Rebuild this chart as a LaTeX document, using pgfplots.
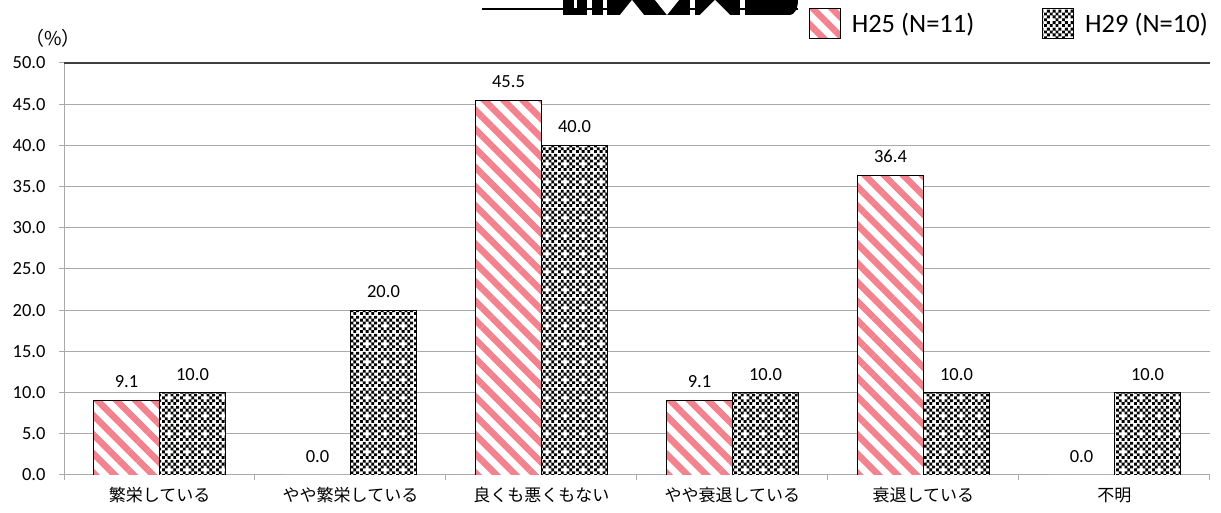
\documentclass[border=0pt]{standalone}
\usepackage{fontspec}
\setmainfont{Carlito}
\newfontfamily\jp{Noto Sans CJK JP}
\usepackage{pgfplots}
\pgfplotsset{compat=1.18}
\usetikzlibrary{patterns,patterns.meta}
\definecolor{pinkh}{RGB}{243,130,143}
\definecolor{gridc}{RGB}{170,170,170}
\pgfdeclarepatternformonly{mycheck}{\pgfqpoint{0pt}{0pt}}{\pgfqpoint{18pt}{18pt}}{\pgfqpoint{18pt}{18pt}}{%
  \pgfpathrectangle{\pgfqpoint{0pt}{0pt}}{\pgfqpoint{3pt}{3pt}}%
  \pgfpathrectangle{\pgfqpoint{6pt}{0pt}}{\pgfqpoint{3pt}{3pt}}%
  \pgfpathrectangle{\pgfqpoint{12pt}{0pt}}{\pgfqpoint{3pt}{3pt}}%
  \pgfpathrectangle{\pgfqpoint{3pt}{3pt}}{\pgfqpoint{3pt}{3pt}}%
  \pgfpathrectangle{\pgfqpoint{9pt}{3pt}}{\pgfqpoint{3pt}{3pt}}%
  \pgfpathrectangle{\pgfqpoint{15pt}{3pt}}{\pgfqpoint{3pt}{3pt}}%
  \pgfpathrectangle{\pgfqpoint{0pt}{6pt}}{\pgfqpoint{3pt}{3pt}}%
  \pgfpathrectangle{\pgfqpoint{12pt}{6pt}}{\pgfqpoint{3pt}{3pt}}%
  \pgfpathrectangle{\pgfqpoint{3pt}{9pt}}{\pgfqpoint{3pt}{3pt}}%
  \pgfpathrectangle{\pgfqpoint{9pt}{9pt}}{\pgfqpoint{3pt}{3pt}}%
  \pgfpathrectangle{\pgfqpoint{15pt}{9pt}}{\pgfqpoint{3pt}{3pt}}%
  \pgfpathrectangle{\pgfqpoint{0pt}{12pt}}{\pgfqpoint{3pt}{3pt}}%
  \pgfpathrectangle{\pgfqpoint{6pt}{12pt}}{\pgfqpoint{3pt}{3pt}}%
  \pgfpathrectangle{\pgfqpoint{12pt}{12pt}}{\pgfqpoint{3pt}{3pt}}%
  \pgfpathrectangle{\pgfqpoint{3pt}{15pt}}{\pgfqpoint{3pt}{3pt}}%
  \pgfpathrectangle{\pgfqpoint{9pt}{15pt}}{\pgfqpoint{3pt}{3pt}}%
  \pgfpathrectangle{\pgfqpoint{15pt}{15pt}}{\pgfqpoint{3pt}{3pt}}%
  \pgfusepath{fill}}
\begin{document}
\begin{tikzpicture}[x=1pt,y=1pt]
\path[use as bounding box] (0,0) rectangle (1221,513);
\begin{axis}[
  at={(64pt,38pt)}, anchor=south west,
  width=1146pt, height=412pt, scale only axis,
  xmin=-0.5, xmax=5.5, ymin=0, ymax=50,
  ybar=0pt, bar width=66pt,
  axis x line*=bottom, axis y line*=left,
  axis line style={gridc, line width=1pt},
  xtick={0,...,5},
  xticklabels={繁栄している,やや繁栄している,良くも悪くもない,やや衰退している,衰退している,不明},
  xticklabel style={font=\jp\fontsize{17}{19}\selectfont, yshift=-4pt},
  major x tick style={draw=none},
  minor xtick={-0.5,0.5,...,5.5},
  minor x tick style={gridc, line width=1pt},
  minor tick length=5pt,
  ytick={0,5,...,50},
  major tick length=5pt,
  y tick style={gridc, line width=1pt},
  tick align=outside,
  ymajorgrids, major grid style={gridc, line width=1pt},
  extra y ticks={50}, extra y tick labels={},
  extra y tick style={grid=major, major grid style={black!75, line width=1.2pt}, tick style={gridc}},
  yticklabel style={font=\fontsize{18.5}{21}\selectfont, xshift=-10pt},
  /pgf/number format/.cd, fixed, fixed zerofill, precision=1, assume math mode=true,
  /pgfplots/.cd,
  nodes near coords,
  every node near coord/.append style={font=\fontsize{18.5}{21}\selectfont, fill=white, inner xsep=5pt, inner ysep=2pt, anchor=south, yshift=10pt},
  legend style={at={(1,1.095)}, anchor=east, draw=none, fill=none, legend columns=2, font=\fontsize{26.5}{29}\selectfont, inner sep=0pt,
    /tikz/every even column/.append style={column sep=66pt}},
  legend cell align=left,
  legend image code/.code={\draw[#1] (0pt,-15pt) rectangle (31pt,15pt);},
]
\addplot[draw=black, line width=0.8pt, fill=white, postaction={pattern={Lines[angle=-45,distance=13.5pt,line width=6.5pt]}, pattern color=pinkh}]
  coordinates {(0,9.1) (1,0.0) (2,45.5) (3,9.1) (4,36.4) (5,0.0)};
\addlegendentry{\hspace{9pt}H25 (N=11)}
\addplot[draw=black, line width=0.8pt, fill=white, postaction={pattern=mycheck, pattern color=black}]
  coordinates {(0,10.0) (1,20.0) (2,40.0) (3,10.0) (4,10.0) (5,10.0)};
\addlegendentry{\hspace{9pt}H29 (N=10)}
\end{axis}
\node[font=\jp\fontsize{19}{21}\selectfont] at (53,475) {（\%）};
% clipped title remnant at top
\draw[black, line width=2pt] (482,504) -- (798,504);
\fill[black] (563,498) rectangle (587,513);
\fill[black] (592,498) rectangle (603,513);
\fill[black] (607,498) rectangle (690,513);
\fill[black] (695,498) rectangle (740,513);
\fill[black] (745,498) rectangle (790,513);
\fill[black] (790,498) arc (-90:0:8 and 15) -- (790,513) -- cycle;
\fill[white] (620,498) -- (632,513) -- (644,498) -- cycle;
\fill[white] (655,513) -- (667,498) -- (679,513) -- cycle;
\fill[white] (700,498) -- (715,513) -- (730,498) -- cycle;
\fill[white] (574,505) rectangle (577,513);
\end{tikzpicture}
\end{document}
